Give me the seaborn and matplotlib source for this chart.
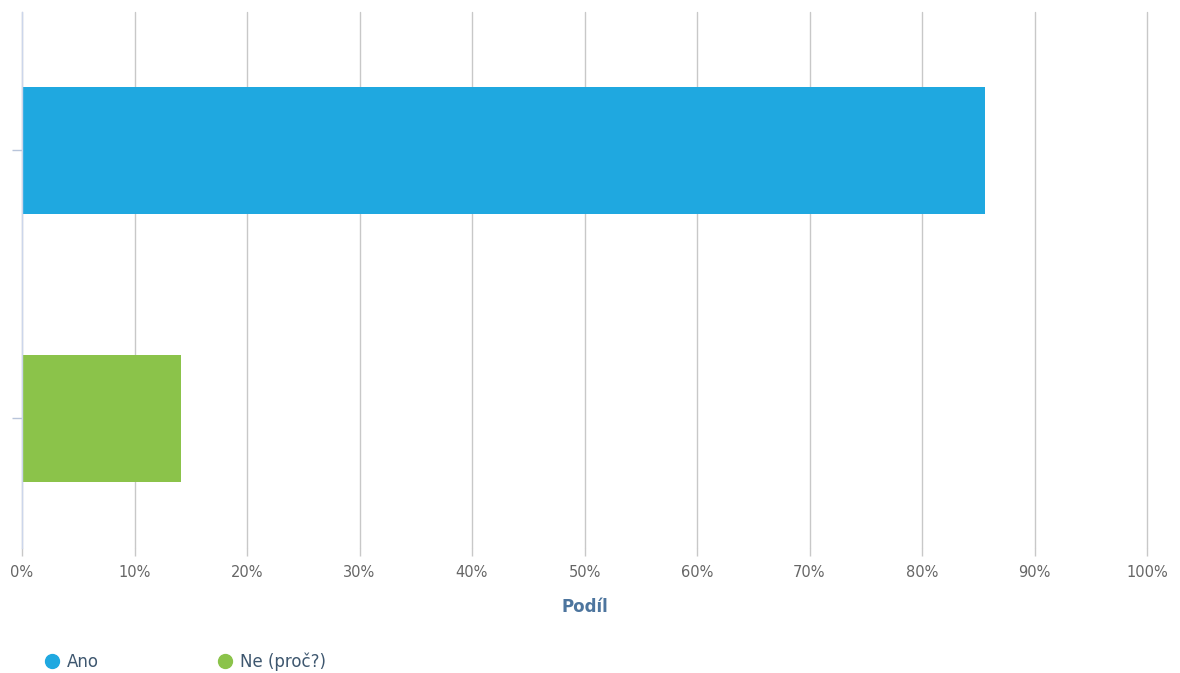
import matplotlib
matplotlib.use("Agg")
import matplotlib.pyplot as plt
from matplotlib.lines import Line2D
from matplotlib.ticker import MultipleLocator, PercentFormatter
import pandas as pd
import seaborn as sns

categories = ["Ano", "Ne (proč?)"]
values = [85.6, 14.1]
colors = ["#1fa8e0", "#8bc34a"]

df = pd.DataFrame({"answer": categories, "share": values})

sns.set_style("white")
plt.rcParams["font.family"] = ["DejaVu Sans"]

fig = plt.figure(figsize=(11.8, 6.73), dpi=100)
ax = fig.add_axes([22 / 1180, 1 - 548 / 673, 1125 / 1180, 536 / 673])

sns.barplot(data=df, x="share", y="answer", hue="answer", palette=colors,
            width=0.474, legend=False, ax=ax, saturation=1, edgecolor="none")

ax.set_xlim(0, 100)
ax.set_ylim(1.485, -0.515)
ax.xaxis.set_major_locator(MultipleLocator(10))
ax.xaxis.set_major_formatter(PercentFormatter(decimals=0))
ax.grid(axis="x", color="#c8c8c8", linewidth=1)
for gl in ax.get_xgridlines():
    gl.set_clip_on(False)
ax.set_axisbelow(True)
for s in ["top", "right", "bottom"]:
    ax.spines[s].set_visible(False)
ax.spines["left"].set_color("#ccd6eb")
ax.spines["left"].set_linewidth(1)

ax.set_yticks([0, 1])
ax.set_yticklabels(["", ""])
ax.tick_params(axis="y", left=True, length=7, color="#b8c4da", width=1)
ax.tick_params(axis="x", bottom=True, length=6, color="#c8c8c8", width=1, labelsize=10.5,
               labelcolor="#666666", pad=6)
ax.set_ylabel("")
ax.set_xlabel("Podíl", fontsize=12, fontweight="bold", color="#4d759e", labelpad=13)

handles = [Line2D([], [], marker="o", linestyle="", markersize=10,
                  markerfacecolor=c, markeredgecolor=c) for c in colors]
fig.legend(handles, categories, loc="center left", bbox_to_anchor=(30 / 1180, 1 - 662 / 673),
           ncol=2, frameon=False, fontsize=12, labelcolor="#3e576f",
           handlelength=0.8, handletextpad=0.5, columnspacing=7.2)

fig.savefig("out.png", dpi=100, facecolor="white")
